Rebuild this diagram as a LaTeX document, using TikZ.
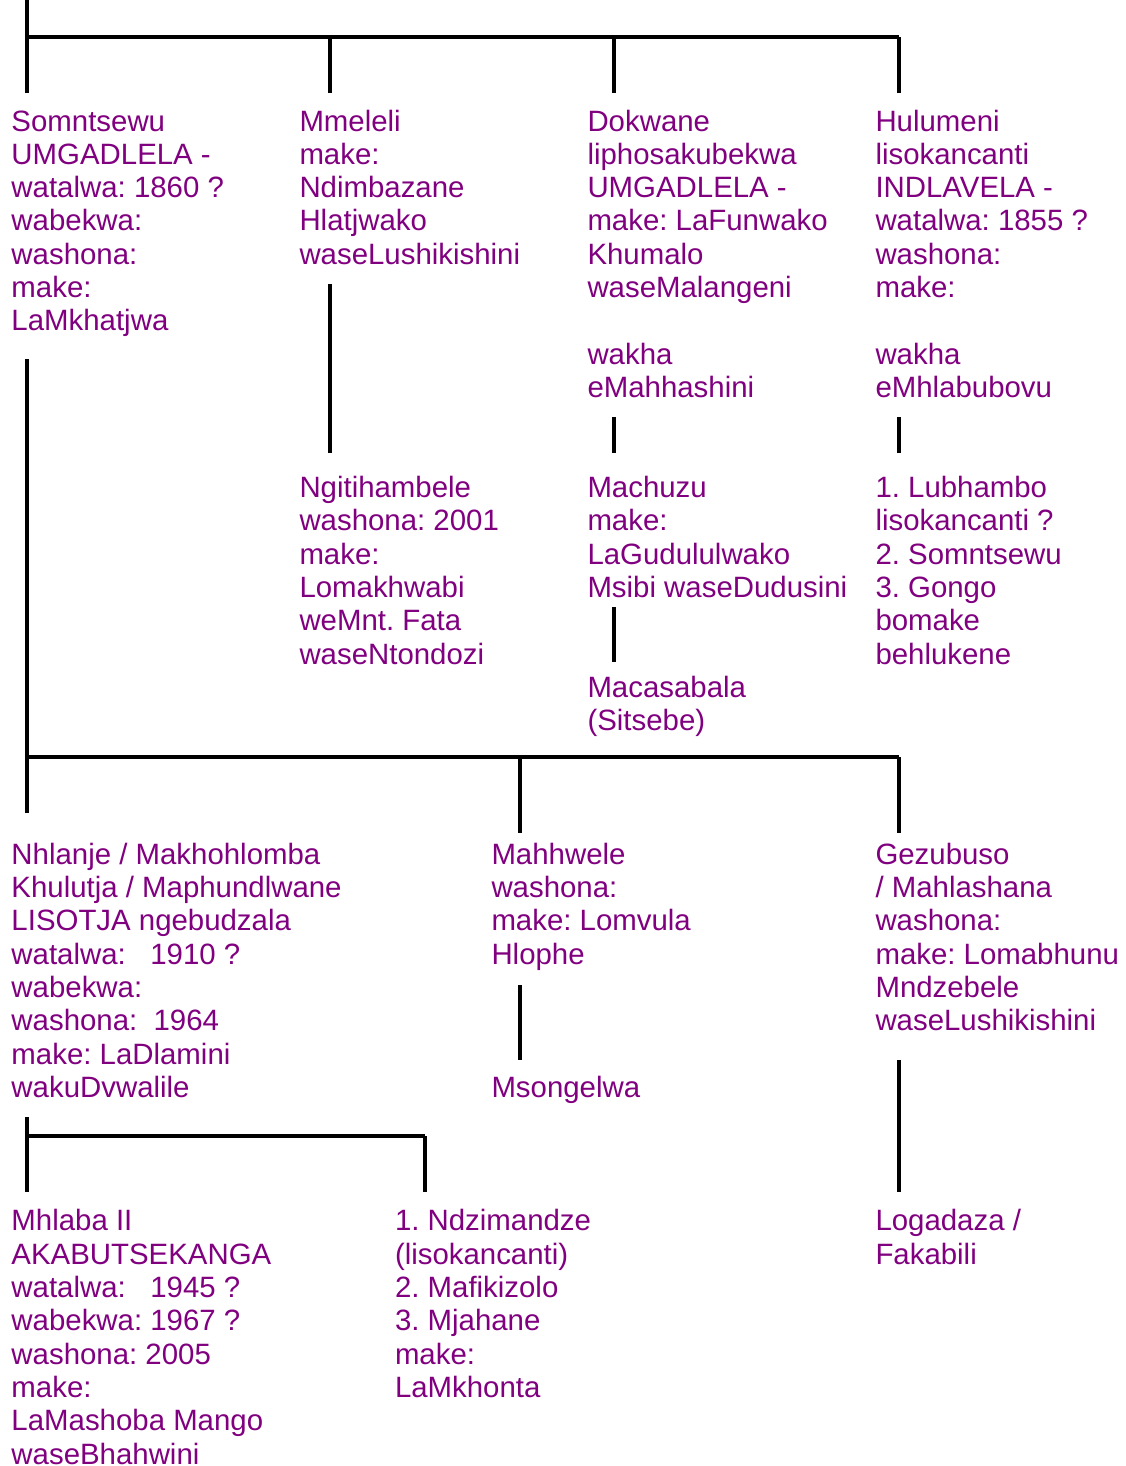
\documentclass[tikz,border=0pt]{standalone}
\usepackage{fontspec}
\setmainfont{Liberation Sans}
\definecolor{pur}{HTML}{800080}
\begin{document}
\begin{tikzpicture}[x=1pt,y=-1pt,
  person/.style={anchor=north west, align=left, inner sep=0pt, outer sep=0pt,
    text=pur, font=\fontsize{29.4}{33.33}\selectfont\frenchspacing},
  link/.style={draw=black, line width=3.5pt}]
\useasboundingbox (0,0) rectangle (1125,1466);
\newcommand{\rowy}[1]{107.67+33.33*#1}
% ---- tier 1
\node[person] (somn) at (11.5,{\rowy{0}}) {\strut Somntsewu\\UMGADLELA -\\watalwa: 1860 ?\\wabekwa:\\washona:\\make:\\LaMkhatjwa};
\node[person] (mmel) at (299.5,{\rowy{0}}) {\strut Mmeleli\\make:\\Ndimbazane\\Hlatjwako\\waseLushikishini};
\node[person] (dokw) at (587.5,{\rowy{0}}) {\strut Dokwane\\liphosakubekwa\\UMGADLELA -\\make: LaFunwako\\Khumalo\\waseMalangeni\\\mbox{}\\wakha\\eMahhashini};
\node[person] (hulu) at (875.5,{\rowy{0}}) {\strut Hulumeni\\lisokancanti\\INDLAVELA -\\watalwa: 1855 ?\\washona:\\make:\\\mbox{}\\wakha\\eMhlabubovu};
% ---- tier 2
\node[person] (ngit) at (299.5,{\rowy{11}}) {\strut Ngitihambele\\washona: 2001\\make:\\Lomakhwabi\\weMnt. Fata\\waseNtondozi};
\node[person] (machu) at (587.5,{\rowy{11}}) {\strut Machuzu\\make:\\LaGudululwako\\Msibi waseDudusini};
\node[person] (lubh) at (875.5,{\rowy{11}}) {\strut 1. Lubhambo\\lisokancanti ?\\2. Somntsewu\\3. Gongo\\bomake\\behlukene};
\node[person] (maca) at (587.5,{\rowy{17}}) {\strut Macasabala\\(Sitsebe)};
% ---- tier 3
\node[person] (nhla) at (11.5,{\rowy{22}}) {\strut Nhlanje / Makhohlomba\\Khulutja / Maphundlwane\\LISOTJA ngebudzala\\watalwa:\ \ \ 1910 ?\\wabekwa:\\washona:\ \ 1964\\make: LaDlamini\\wakuDvwalile};
\node[person] (mahh) at (491.5,{\rowy{22}}) {\strut Mahhwele\\washona:\\make: Lomvula\\Hlophe};
\node[person] (gezu) at (875.5,{\rowy{22}}) {\strut Gezubuso\\/ Mahlashana\\washona:\\make: Lomabhunu\\Mndzebele\\waseLushikishini};
\node[person] (mson) at (491.5,{\rowy{29}}) {\strut Msongelwa};
% ---- tier 4
\node[person] (mhla) at (11.5,{\rowy{33}}) {\strut Mhlaba II\\AKABUTSEKANGA\\watalwa:\ \ \ 1945 ?\\wabekwa: 1967 ?\\washona: 2005\\make:\\LaMashoba Mango\\waseBhahwini};
\node[person] (ndzi) at (395,{\rowy{33}}) {\strut 1. Ndzimandze\\(lisokancanti)\\2. Mafikizolo\\3. Mjahane\\make:\\LaMkhonta};
\node[person] (loga) at (875.5,{\rowy{33}}) {\strut Logadaza /\\Fakabili};
% ---- connector coordinates
\coordinate (topin) at (27,0);
\coordinate (b1) at (27,37);
\coordinate (b1e) at (899,37);
\coordinate (c1a) at (27,93);
\coordinate (c1b) at (330,93);
\coordinate (c1c) at (614,93);
\coordinate (c1d) at (899,93);
\coordinate (j1b) at (330,37);
\coordinate (j1c) at (614,37);
% ---- top family
\draw[link] (topin) -- (c1a);
\draw[link] (b1) -- (b1e);
\draw[link] (j1b) -- (c1b);
\draw[link] (j1c) -- (c1c);
\draw[link] (b1e) -- (c1d);
% ---- single-line descents
\draw[link] (330,284) coordinate (m1) -- (330,453) coordinate (m2);
\draw[link] (614,417) coordinate (d1) -- (614,453) coordinate (d2);
\draw[link] (614,607) coordinate (d3) -- (614,662) coordinate (d4);
\draw[link] (899,417) coordinate (h1) -- (899,453) coordinate (h2);
% ---- Somntsewu family
\coordinate (s1) at (27,359);
\coordinate (s2) at (27,757);
\coordinate (s3) at (27,813);
\coordinate (s4) at (899,757);
\coordinate (s5) at (520,757);
\coordinate (s6) at (520,833);
\coordinate (s7) at (899,833);
\draw[link] (s1) -- (s3);
\draw[link] (s2) -- (s4);
\draw[link] (s5) -- (s6);
\draw[link] (s4) -- (s7);
% ---- Mahhwele, Gezubuso
\draw[link] (520,985) coordinate (w1) -- (520,1060) coordinate (w2);
\draw[link] (899,1060) coordinate (g1) -- (899,1192) coordinate (g2);
% ---- Nhlanje family
\coordinate (n1) at (27,1117);
\coordinate (n2) at (27,1136);
\coordinate (n3) at (27,1192);
\coordinate (n4) at (425,1136);
\coordinate (n5) at (425,1192);
\draw[link] (n1) -- (n3);
\draw[link] (n2) -- (n4);
\draw[link] (n4) -- (n5);
\end{tikzpicture}
\end{document}
